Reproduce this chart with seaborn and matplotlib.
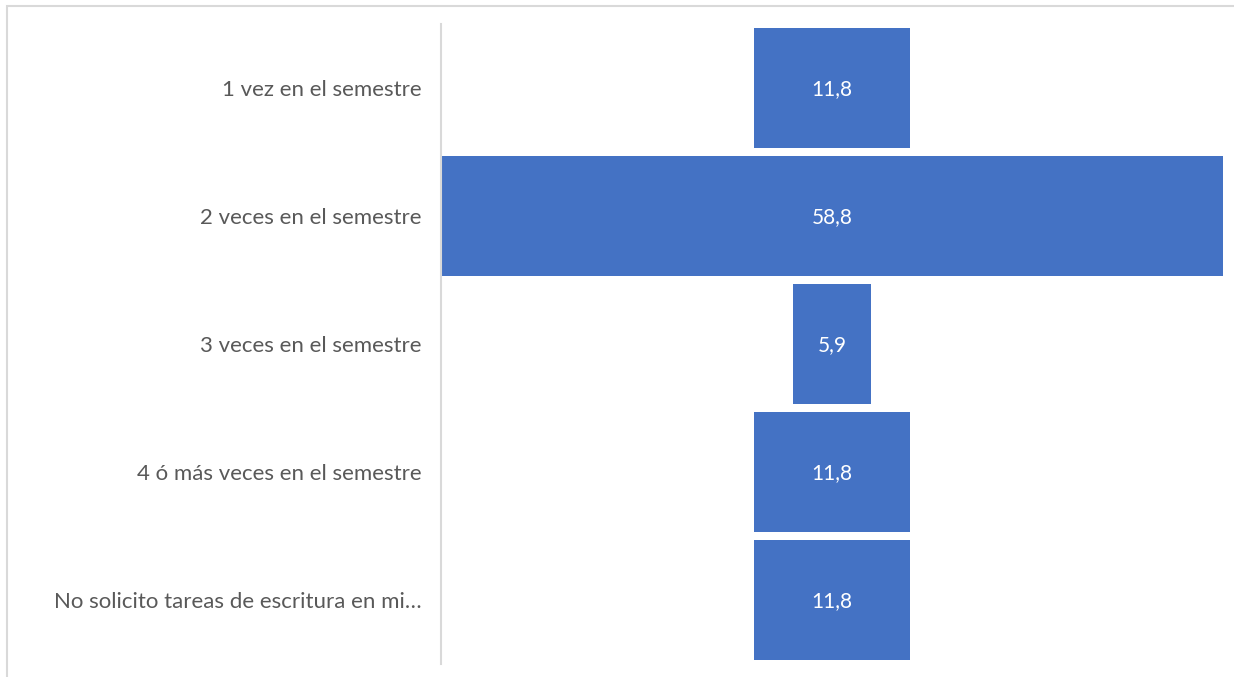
import pandas as pd
import matplotlib.pyplot as plt
import seaborn as sns
from matplotlib.patches import Rectangle


categories = [
    "1 vez en el semestre",
    "2 veces en el semestre",
    "3 veces en el semestre",
    "4 ó más veces en el semestre",
    "No solicito tareas de escritura en mi…",
]
values = [11.8, 58.8, 5.9, 11.8, 11.8]

df = pd.DataFrame({"Frecuencia": categories, "Porcentaje": values})

sns.set_style("white")
plt.rcParams["font.family"] = ["Lato", "DejaVu Sans"]

fig = plt.figure(figsize=(12.34, 6.77), dpi=100)
ax = fig.add_axes([441 / 1234, 1 - 664 / 677, 782 / 1234, 640 / 677])

sns.barplot(data=df, x="Porcentaje", y="Frecuencia", color="#4472C4",
            saturation=1, width=0.945, orient="h", linewidth=0, ax=ax)

# funnel: center each bar on the widest one
vmax = max(values)
for patch, v in zip(ax.patches, values):
    patch.set_x((vmax - v) / 2)
    ax.text((vmax - v) / 2 + v / 2, patch.get_y() + patch.get_height() / 2 + 0.01,
            f"{v:.1f}".replace(".", ","), ha="center", va="center",
            color="white", fontsize=15)

ax.set_xlim(0, vmax)
ax.set_ylim(4.5, -0.5)
ax.set_xlabel("")
ax.set_ylabel("")
ax.set_xticks([])
ax.tick_params(axis="y", length=0, pad=14, labelsize=16, labelcolor="#595959")
for s in ["top", "right", "bottom"]:
    ax.spines[s].set_visible(False)
ax.spines["left"].set_color("#D9D9D9")
ax.spines["left"].set_linewidth(1.5)

# chart area border (only top and left visible in the crop)
fig.patches.append(Rectangle((7 / 1234, -0.1), 1.2, 1 - 6 / 677 + 0.1,
                             transform=fig.transFigure, fill=False,
                             edgecolor="#D9D9D9", linewidth=1.5))

fig.savefig("out.png", dpi=100)
